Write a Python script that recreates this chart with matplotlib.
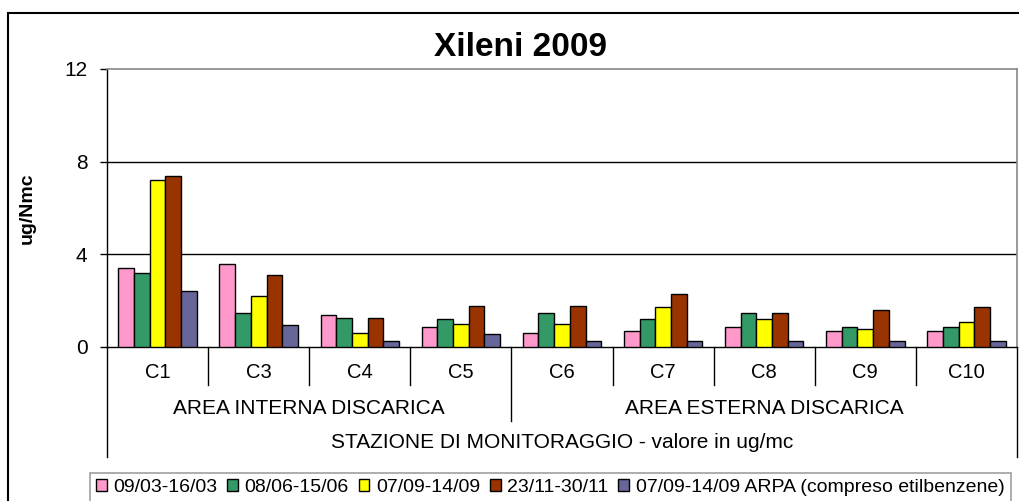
import matplotlib
matplotlib.use("Agg")
import matplotlib.pyplot as plt
import numpy as np
from matplotlib.patches import Patch, Rectangle
from matplotlib.lines import Line2D
import matplotlib.transforms as mtransforms

plt.rcParams['font.family'] = ['Liberation Sans', 'DejaVu Sans']

# dati
stazioni = ["C1", "C3", "C4", "C5", "C6", "C7", "C8", "C9", "C10"]
periodi = ["09/03-16/03", "08/06-15/06", "07/09-14/09", "23/11-30/11",
           "07/09-14/09 ARPA (compreso etilbenzene)"]
marzo = [3.4, 3.6, 1.37, 0.88, 0.62, 0.70, 0.88, 0.70, 0.70]
giugno = [3.2, 1.48, 1.27, 1.20, 1.48, 1.21, 1.48, 0.86, 0.86]
settembre = [7.22, 2.21, 0.59, 0.99, 0.99, 1.71, 1.21, 0.76, 1.09]
novembre = [7.39, 3.10, 1.27, 1.77, 1.77, 2.27, 1.48, 1.60, 1.71]
arpa = [2.43, 0.94, 0.26, 0.55, 0.26, 0.26, 0.26, 0.26, 0.26]
gruppi = ["AREA INTERNA DISCARICA", "AREA ESTERNA DISCARICA"]
n_interne = 4

serie = [marzo, giugno, settembre, novembre, arpa]
colori = ["#FF99CC", "#339966", "#FFFF00", "#993300", "#666699"]

W, H = 1020, 501
fig = plt.figure(figsize=(W / 100, H / 100), dpi=100)

# riquadro esterno del grafico
fig.add_artist(Rectangle((8 / W, -0.2), 1.2, 1.2 - 13 / H,
                         transform=fig.transFigure, fill=False,
                         edgecolor="black", linewidth=1.5))

left, right, top, bottom = 107, 1017, 69, 347
ax = fig.add_axes([left / W, 1 - bottom / H, (right - left) / W, (bottom - top) / H])

n = len(stazioni)
x = np.arange(n) + 0.5
bw = 0.155
for k, (vals, col) in enumerate(zip(serie, colori)):
    ax.bar(x + (k - 2) * bw, vals, width=bw, color=col, edgecolor="black",
           linewidth=1.0, zorder=3)

ax.set_xlim(0, n)
ax.set_ylim(0, 12)
ax.set_yticks([0, 4, 8, 12])
ax.tick_params(axis="y", length=5, width=1, pad=9, labelsize=15)
ax.set_xticks([])
for yv in [4, 8]:
    ax.axhline(yv, color="black", linewidth=1.0, zorder=1)

for s in ["top", "right"]:
    ax.spines[s].set_color("#888888")
    ax.spines[s].set_linewidth(1.2)
ax.spines["left"].set_linewidth(1.0)
ax.spines["bottom"].set_linewidth(1.0)

def fy(py):
    return (bottom - py) / (bottom - top)

tr = mtransforms.blended_transform_factory(ax.transData, ax.transAxes)
for i in range(1, n):
    y_end = fy(421) if i == n_interne else fy(385)
    ax.add_line(Line2D([i, i], [0, y_end], transform=tr, color="black",
                       linewidth=1.0, clip_on=False))
for xi in [0, n]:
    ax.add_line(Line2D([xi, xi], [0, fy(457)], transform=tr, color="black",
                       linewidth=1.0, clip_on=False))

for xi, lab in zip(x, stazioni):
    ax.text(xi, fy(372), lab, transform=tr, ha="center", va="center", fontsize=14.5)
ax.text(n_interne / 2, fy(409), gruppi[0], transform=tr, ha="center", va="center", fontsize=15)
ax.text((n_interne + n) / 2, fy(409), gruppi[1], transform=tr, ha="center", va="center", fontsize=15)
ax.text(n / 2, fy(443), "STAZIONE DI MONITORAGGIO - valore in ug/mc", transform=tr,
        ha="center", va="center", fontsize=15)

fig.text(521 / W, 1 - 48 / H, "Xileni 2009", ha="center", va="center",
         fontsize=24, fontweight="bold")
fig.text(27 / W, 1 - 208 / H, "ug/Nmc", ha="center", va="center", rotation=90,
         fontsize=14, fontweight="bold")

handles = [Patch(facecolor=c, edgecolor="black", linewidth=1.0) for c in colori]
leg = fig.legend(handles, periodi, loc="upper left", bbox_to_anchor=(90 / W, 1 - 473 / H),
                 ncol=5, frameon=True, fancybox=False, fontsize=14, borderaxespad=0,
                 handlelength=0.55, handleheight=0.55, handletextpad=0.35,
                 columnspacing=0.5, borderpad=0.3)
leg.get_frame().set_edgecolor("#888888")
leg.get_frame().set_linewidth(1.2)

fig.savefig("out.png", dpi=100)
